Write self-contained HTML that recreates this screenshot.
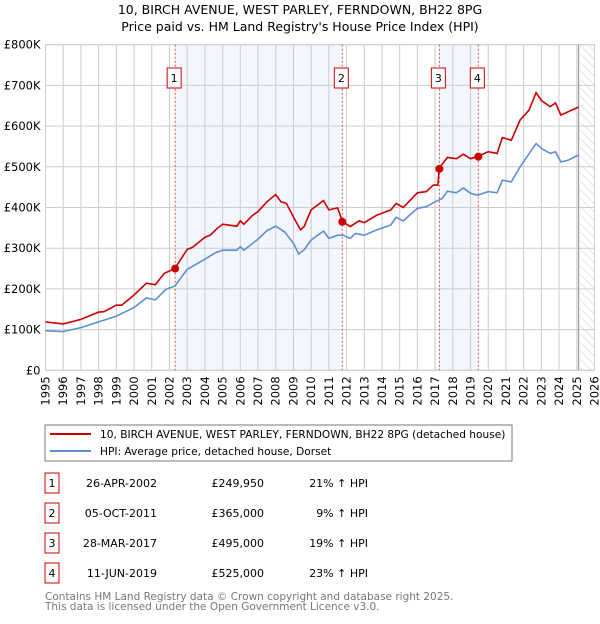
<!DOCTYPE html>
<html><head><meta charset="utf-8"><style>
body{margin:0;background:#fff;font-family:"DejaVu Sans","Liberation Sans",sans-serif;}
svg text{font-family:"DejaVu Sans","Liberation Sans",sans-serif;}
</style></head><body>
<svg id="c" width="600" height="620" viewBox="0 0 600 620" xmlns="http://www.w3.org/2000/svg">
<defs><pattern id="hatch" width="6" height="6" patternUnits="userSpaceOnUse" patternTransform="rotate(-45)"><line x1="0" y1="0" x2="0" y2="6" stroke="#ccc" stroke-width="1"/></pattern></defs>
<text x="300" y="14" text-anchor="middle" font-size="12.5" fill="#000">10, BIRCH AVENUE, WEST PARLEY, FERNDOWN, BH22 8PG</text>
<text x="300" y="31" text-anchor="middle" font-size="12.5" fill="#000">Price paid vs. HM Land Registry's House Price Index (HPI)</text>
<g id="plot"></g>
<rect x="45" y="425" width="467" height="36" fill="#fff" stroke="#777"/>
<line x1="50" y1="434" x2="91" y2="434" stroke="#cc0000" stroke-width="2"/>
<text x="100" y="438" font-size="10.6">10, BIRCH AVENUE, WEST PARLEY, FERNDOWN, BH22 8PG (detached house)</text>
<line x1="50" y1="451" x2="91" y2="451" stroke="#5b8fd4" stroke-width="2"/>
<text x="100" y="455" font-size="10.6">HPI: Average price, detached house, Dorset</text>
<g id="table" font-size="11"></g>
<text x="45" y="600" font-size="10.5" fill="#777">Contains HM Land Registry data © Crown copyright and database right 2025.</text>
<text x="45" y="610" font-size="10.5" fill="#777">This data is licensed under the Open Government Licence v3.0.</text>
</svg>
<script>
const yTicks=[0,100,200,300,400,500,600,700,800];
const yLabels=["£0","£100K","£200K","£300K","£400K","£500K","£600K","£700K","£800K"];
const xYears=[1995,1996,1997,1998,1999,2000,2001,2002,2003,2004,2005,2006,2007,2008,2009,2010,2011,2012,2013,2014,2015,2016,2017,2018,2019,2020,2021,2022,2023,2024,2025,2026];
const hpiT=[1995,1996,1997,1998,1999,2000,2000.7,2001.2,2001.8,2002.3,2003,2004,2004.6,2005,2005.8,2006,2006.2,2007,2007.5,2008,2008.5,2009,2009.3,2009.6,2010,2010.7,2011,2011.5,2011.8,2012.2,2012.5,2013,2013.7,2014.5,2014.8,2015.2,2016,2016.5,2017,2017.4,2017.7,2018.2,2018.6,2019,2019.4,2020,2020.5,2020.8,2021.3,2021.8,2022.7,2023,2023.5,2023.8,2024.1,2024.5,2025.1];
const hpiV=[97,95,105,119,133,154,178,173,199,207,248,273,289,295,295,304,295,322,343,354,340,312,286,296,320,342,324,332,332,324,336,332,345,357,376,367,398,402,414,422,440,436,448,435,430,439,436,467,463,500,557,545,533,537,512,516,529];
const redT=[1995,1996,1997,1998,1998.3,1999,1999.3,2000,2000.7,2001.2,2001.7,2002.3,2003,2003.3,2004,2004.3,2004.7,2005,2005.8,2006,2006.2,2006.7,2007,2007.5,2008,2008.3,2008.6,2009,2009.4,2009.6,2010,2010.7,2011,2011.5,2011.75,2012.2,2012.7,2013,2013.7,2014.5,2014.8,2015.2,2016,2016.5,2016.9,2017.15,2017.24,2017.7,2018.2,2018.6,2019,2019.45,2020,2020.5,2020.8,2021.3,2021.8,2022.3,2022.7,2023,2023.5,2023.8,2024.1,2024.5,2025.1];
const redV=[119,114,125,143,144,160,160,185,214,210,238,250,297,302,327,332,349,359,354,367,359,381,390,414,432,414,410,377,345,353,394,417,394,399,367,353,367,363,381,394,410,400,436,439,455,455,498,523,520,531,520,526,537,533,572,565,615,639,682,663,648,657,627,635,647];
const saleT=[2002.32,2011.76,2017.24,2019.44];
const saleV=[249.95,365,495,525];
const saleLabels=["1","2","3","4"];
const saleDates=["26-APR-2002","05-OCT-2011","28-MAR-2017","11-JUN-2019"];
const salePrices=["£249,950","£365,000","£495,000","£525,000"];
const saleHpi=["21% ↑ HPI","9% ↑ HPI","19% ↑ HPI","23% ↑ HPI"];
const NS="http://www.w3.org/2000/svg";
const X0=45.5,X1=594.5,Y0=370.3,Y1=44.7;
const x=t=>X0+(t-1995)/(2026-1995)*(X1-X0);
const y=v=>Y0-v/800*(Y0-Y1);
const g=document.getElementById('plot');
function mk(tag,attrs,parent){const e=document.createElementNS(NS,tag);for(const k in attrs)e.setAttribute(k,attrs[k]);(parent||g).appendChild(e);return e;}
let r=mk('rect',{x:x(saleT[0]),y:Y1,width:x(saleT[1])-x(saleT[0]),height:Y0-Y1,fill:'#f3f6fd'});


r=mk('rect',{x:x(saleT[2]),y:Y1,width:x(saleT[3])-x(saleT[2]),height:Y0-Y1,fill:'#f3f6fd'});


r=mk('rect',{x:x(2025.2),y:Y1,width:X1-x(2025.2),height:Y0-Y1,fill:'url(#hatch)'});


yTicks.forEach((v,i)=>{
 let l=mk('line',{x1:X0,x2:X1,y1:y(v),y2:y(v),stroke:'#ccc','stroke-width':1});
 
 
 let t=mk('text',{x:X0-5,y:y(v)+4,'text-anchor':'end','font-size':11.5});
 t.textContent=yLabels[i];
 
 
});
xYears.forEach(yr=>{
 let l=mk('line',{x1:x(yr),x2:x(yr),y1:Y1,y2:Y0,stroke:'#ccc','stroke-width':1});
 
 
 let t=mk('text',{x:0,y:0,'text-anchor':'end','font-size':11.5,transform:`translate(${x(yr)+4},${Y0+6}) rotate(-90)`});
 t.textContent=yr;
 
 
});
let b=mk('rect',{x:X0,y:Y1,width:X1-X0,height:Y0-Y1,fill:'none',stroke:'#ccc'});


let nl=mk('line',{x1:x(2025.1),x2:x(2025.1),y1:Y1,y2:Y0,stroke:'#999','stroke-width':1.2});


saleT.forEach((t,i)=>{
 let l=mk('line',{x1:x(t),x2:x(t),y1:Y1,y2:Y0,stroke:'#e05050','stroke-width':1,'stroke-dasharray':'2,2'});
 
 
 let bx=mk('rect',{x:x(t)-8,y:68,width:14,height:20,fill:'#fff',stroke:'#cc0000'});
 
 
 let tx=mk('text',{x:x(t)-1,y:82,'text-anchor':'middle','font-size':11});
 tx.textContent=saleLabels[i];
 
 
});
const pts=(T,V)=>T.map((t,i)=>x(t).toFixed(1)+','+y(V[i]).toFixed(1)).join(' ');
let hp=mk('polyline',{points:pts(hpiT,hpiV),fill:'none',stroke:'#5b8fd4','stroke-width':1.6});


let rp=mk('polyline',{points:pts(redT,redV),fill:'none',stroke:'#cc0000','stroke-width':1.6});


saleT.forEach((t,i)=>{
 let c=mk('circle',{cx:x(t),cy:y(saleV[i]),r:4,fill:'#cc0000'});
 
 
});
const tb=document.getElementById('table');
const rowY=[483,513,543,573];
saleLabels.forEach((lb,i)=>{
 let bx=mk('rect',{x:45,y:rowY[i]-10,width:14,height:20,fill:'#fff',stroke:'#cc0000'},tb);
 
 
 let t=mk('text',{x:52,y:rowY[i]+4,'text-anchor':'middle'},tb);t.textContent=lb;
 
 
 t=mk('text',{x:157,y:rowY[i]+4,'text-anchor':'end'},tb);t.textContent=saleDates[i];
 
 
 t=mk('text',{x:264,y:rowY[i]+4,'text-anchor':'end'},tb);t.textContent=salePrices[i];
 
 
 t=mk('text',{x:368,y:rowY[i]+4,'text-anchor':'end'},tb);t.textContent=saleHpi[i];
 
 
});
</script>
</body></html>
